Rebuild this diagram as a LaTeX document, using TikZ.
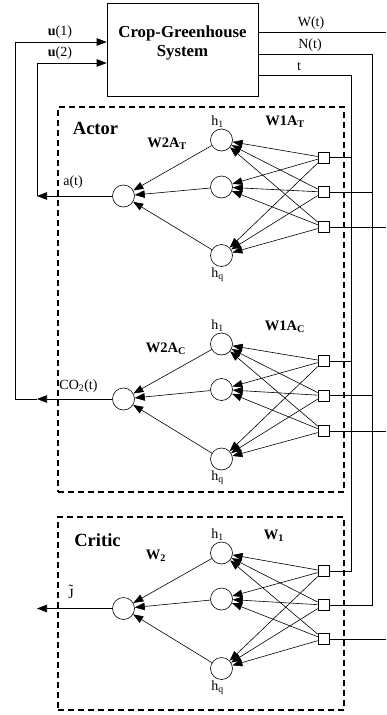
\documentclass[tikz,border=0pt]{standalone}
\usepackage{fontspec}
\setmainfont{Liberation Serif}
\usetikzlibrary{arrows.meta,calc}
\tikzset{
 neuron/.style={draw, circle, minimum size=22pt, inner sep=0pt, line width=0.6pt},
 inbox/.style={draw, rectangle, minimum size=11pt, inner sep=0pt, line width=0.6pt},
 wire/.style={line width=0.6pt},
 arr/.style={-{Triangle[length=10pt,width=7.5pt]}},
 dbox/.style={draw, line width=2.2pt, dash pattern=on 6pt off 4pt, inner sep=0pt},
 lbl/.style={font=\fontsize{14}{16}\selectfont, inner sep=0pt, anchor=base},
 blbl/.style={font=\fontsize{14.5}{16}\selectfont\bfseries, inner sep=0pt, anchor=base},
 ttl/.style={font=\fontsize{18.5}{20}\selectfont\bfseries, inner sep=0pt, anchor=base},
 systl/.style={font=\fontsize{16.8}{19}\selectfont\bfseries, inner sep=0pt, anchor=base},
}
\newcommand\mynet[8]{%
 \node[neuron] (#1h1) at (221.5,#2) {};
 \node[neuron] (#1h2) at (221.5,#3) {};
 \node[neuron] (#1hq) at (221.5,#4) {};
 \node[neuron] (#1o) at (123.5,#5) {};
 \node[inbox] (#1s1) at (323.5,#6) {};
 \node[inbox] (#1s2) at (323.5,#7) {};
 \node[inbox] (#1s3) at (323.5,#8) {};
 \foreach \s in {1,2,3}{\foreach \h in {1,2,q}{\draw[wire,arr] (#1s\s) -- (#1h\h);}}
 \foreach \h in {1,2,q}{\draw[wire,arr] (#1h\h) -- (#1o);}
 \node[lbl] (#1l1) at ([xshift=-4pt,yshift=15pt]#1h1.center) {h\textsubscript{1}};
 \node[lbl] (#1lq) at ([xshift=-4pt,yshift=-21.5pt]#1hq.center) {h\textsubscript{q}};
}
\newcommand\tildeJ{\ooalign{J\cr\hidewidth\raisebox{4pt}{\char"02DC}\hidewidth\cr}}
\begin{document}
\begin{tikzpicture}[x=1pt,y=-1pt]
\useasboundingbox (0,0) rectangle (386,715);
% dashed frames
\node[dbox, minimum width=286pt, minimum height=385pt] (actor) at (201,299.5) {};
\node[dbox, minimum width=286pt, minimum height=193pt] (critic) at (201,613.5) {};
% system
\node[draw, wire, minimum width=151pt, minimum height=93pt, inner sep=0pt] (sys) at (182.5,49.5) {};
\node[systl] (systxt1) at (182.5,37) {Crop-Greenhouse};
\node[systl] (systxt2) at (182.5,56) {System};
% networks
\mynet{a1}{140}{187}{255.5}{196}{157.5}{192}{227}
\mynet{a2}{344}{389.5}{459}{399}{361}{395.5}{431}
\mynet{c}{553}{599}{668.5}{608.5}{571}{605}{639}
% outputs of system
\coordinate (wEnd) at (386,32);
\coordinate (nTop) at (372,54);
\coordinate (tTop) at (351,75);
\draw[wire] (sys.east |- wEnd) -- (wEnd);
\draw[wire] (sys.east |- nTop) -- (nTop) -- (nTop |- cs2) -- (cs2.east);
\draw[wire] (sys.east |- tTop) -- (tTop) -- (tTop |- cs1) -- (cs1.east);
\draw[wire] (a1s1.east) -- (a1s1.east -| tTop);
\draw[wire] (a1s2.east) -- (a1s2.east -| nTop);
\draw[wire] (a1s3.east) -- (a1s3.east -| wEnd);
\draw[wire] (a2s1.east) -- (a2s1.east -| tTop);
\draw[wire] (a2s2.east) -- (a2s2.east -| nTop);
\draw[wire] (a2s3.east) -- (a2s3.east -| wEnd);
\draw[wire] (cs3.east) -- (cs3.east -| wEnd);
% inputs of system
\coordinate (uA) at (15,42);
\coordinate (uB) at (37,63);
\draw[wire,arr] (uA) -- (uA -| sys.west);
\draw[wire,arr] (uB) -- (uB -| sys.west);
\draw[wire,arr] (a1o) -- (a1o -| uB);
\draw[wire] (a1o -| uB) -- (uB);
\draw[wire,arr] (a2o) -- (a2o -| uB);
\draw[wire] (a2o -| uB) -- (a2o -| uA) -- (uA);
\draw[wire,arr] (co) -- (co -| uB);
% labels
\node[lbl] (u1l) at (60,35) {\textbf{u}(1)};
\node[lbl] (u2l) at (60,56) {\textbf{u}(2)};
\node[lbl] (wl) at (311,26) {W(t)};
\node[lbl] (nl) at (310,48) {N(t)};
\node[lbl] (tl) at (299,70) {t};
\node[ttl] (actorl) at (95.5,134) {Actor};
\node[ttl] (criticl) at (97.5,546) {Critic};
\node[blbl] (w2at) at (167,147) {W2A\textsubscript{T}};
\node[blbl] (w1at) at (285,125) {W1A\textsubscript{T}};
\node[lbl] (atl) at (73,185) {a(t)};
\node[blbl] (w2ac) at (166,352) {W2A\textsubscript{C}};
\node[blbl] (w1ac) at (285,330) {W1A\textsubscript{C}};
\node[lbl] (co2l) at (78.5,389) {CO\textsubscript{2}(t)};
\node[blbl] (w1l) at (274,539) {W\textsubscript{1}};
\node[blbl] (w2l) at (156,559) {W\textsubscript{2}};
\node[lbl] (jl) at (71,598) {\tildeJ};
\end{tikzpicture}
\end{document}
